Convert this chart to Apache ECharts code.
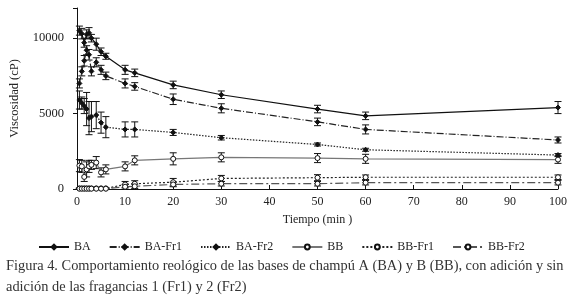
<!DOCTYPE html>
<html><head><meta charset="utf-8">
<script src="https://cdn.jsdelivr.net/npm/echarts@6/dist/echarts.min.js"></script>
<style>html,body{margin:0;padding:0;background:#fff}#c{width:574px;height:296px}</style>
</head><body><div id="c"></div>
<script>
const times = [0.5, 1, 1.5, 2, 2.5, 3, 4, 5, 6, 10, 12, 20, 30, 50, 60, 100];
const BA      = [10500, 10300, 9700, 10250, 10350, 10000, 9600, 9100, 8800, 7900, 7700, 6900, 6250, 5300, 4850, 5400];
const BA_err  = [300, 350, 300, 300, 350, 250, 400, 250, 200, 300, 250, 250, 250, 250, 250, 400];
const BAFr1   = [7000, 7800, 8500, 9200, 8900, 7800, 8400, 7900, 7500, 7000, 6800, 5950, 5350, 4450, 3950, 3250];
const BAFr1_err = [300, 300, 350, 300, 350, 300, 300, 300, 250, 300, 250, 350, 300, 250, 300, 200];
const BAFr2   = [5900, 5700, 5500, 5300, 4700, 4800, 4900, 4400, 4100, 3950, 3950, 3750, 3400, 2950, 2600, 2250];
const BAFr2_err = [600, 400, 500, 1100, 1100, 1000, 900, 700, 700, 500, 500, 200, 150, 100, 100, 100];
const BB      = [1550, 1500, 800, 1300, 1500, 1600, 1750, 1100, 1300, 1500, 1900, 2000, 2100, 2050, 2000, 1950];
const BB_err  = [400, 400, 300, 500, 400, 300, 400, 300, 300, 300, 300, 400, 300, 300, 300, 250];
const BBFr1   = [40, 40, 40, 40, 40, 40, 40, 40, 40, 300, 350, 450, 700, 750, 780, 780];
const BBFr1_err = [30, 30, 30, 30, 30, 30, 30, 30, 30, 200, 200, 250, 200, 200, 150, 150];
const BBFr2   = [20, 20, 20, 20, 20, 20, 20, 20, 20, 150, 180, 300, 350, 350, 420, 420];
const BBFr2_err = [20, 20, 20, 20, 20, 20, 20, 20, 20, 150, 150, 150, 150, 150, 150, 150];
const names = ['BA', 'BA-Fr1', 'BA-Fr2', 'BB', 'BB-Fr1', 'BB-Fr2'];
const xTicks = [0, 10, 20, 30, 40, 50, 60, 70, 80, 90, 100];
const yTicks = [0, 5000, 10000];
const caption1 = 'Figura 4. Comportamiento reológico de las bases de champú A (BA) y B (BB), con adición y sin';
const caption2 = 'adición de las fragancias 1 (Fr1) y 2 (Fr2)';

const vals = [BA, BAFr1, BAFr2, BB, BBFr1, BBFr2];
const errs = [BA_err, BAFr1_err, BAFr2_err, BB_err, BBFr1_err, BBFr2_err];
const styles = [
  {type: 'solid', color: '#111', sym: 'diamond', fill: '#111'},
  {type: [7, 2, 1, 2], color: '#222', sym: 'diamond', fill: '#111'},
  {type: [1.5, 1.5], color: '#222', sym: 'diamond', fill: '#111'},
  {type: 'solid', color: '#777', sym: 'circle', fill: '#fff'},
  {type: [2, 2], color: '#222', sym: 'circle', fill: '#fff'},
  {type: [8, 3, 2, 3], color: '#555', sym: 'circle', fill: '#fff'}
];
const font = '"Liberation Serif", "DejaVu Serif", serif';
const series = [];
names.forEach((n, i) => {
  series.push({
    name: n, type: 'line', z: 3,
    data: times.map((t, k) => [t, vals[i][k]]),
    symbol: styles[i].sym, symbolSize: 5,
    itemStyle: {color: styles[i].fill, borderColor: '#111', borderWidth: 1},
    lineStyle: {type: styles[i].type, color: styles[i].color, width: 1.2}
  });
  series.push({
    name: n, type: 'custom', z: 2,
    data: times.map((t, k) => [t, vals[i][k] - errs[i][k], vals[i][k] + errs[i][k]]),
    renderItem: function (params, api) {
      const lo = api.coord([api.value(0), api.value(1)]);
      const hi = api.coord([api.value(0), api.value(2)]);
      const w = 3.5;
      const st = {stroke: '#111', lineWidth: 1};
      return {type: 'group', children: [
        {type: 'line', shape: {x1: lo[0], y1: lo[1], x2: hi[0], y2: hi[1]}, style: st},
        {type: 'line', shape: {x1: lo[0] - w, y1: lo[1], x2: lo[0] + w, y2: lo[1]}, style: st},
        {type: 'line', shape: {x1: hi[0] - w, y1: hi[1], x2: hi[0] + w, y2: hi[1]}, style: st}
      ]};
    }
  });
});

const chart = echarts.init(document.getElementById('c'));
chart.setOption({
  animation: false,
  backgroundColor: '#fff',
  grid: {left: 77, right: 16, top: 8, bottom: 107},
  legend: {
    data: names, left: 33, top: 236, itemWidth: 30, itemHeight: 6, itemGap: 18,
    textStyle: {fontFamily: font, fontSize: 12, color: '#222'}
  },
  xAxis: {
    type: 'value', min: 0, max: 100, interval: 10,
    name: 'Tiempo (min )', nameLocation: 'middle', nameGap: 25,
    nameTextStyle: {fontFamily: font, fontSize: 12, color: '#222'},
    axisLine: {lineStyle: {color: '#111', width: 1}},
    axisTick: {inside: true, length: 4, lineStyle: {color: '#111'}},
    axisLabel: {fontFamily: font, fontSize: 12, color: '#222', margin: 7},
    splitLine: {show: false}
  },
  yAxis: {
    type: 'value', min: 0, max: 12000, interval: 5000,
    name: 'Viscosidad (cP)', nameLocation: 'middle', nameGap: 56,
    nameTextStyle: {fontFamily: font, fontSize: 12.5, color: '#222'},
    axisLine: {show: true, lineStyle: {color: '#111', width: 1}},
    axisTick: {show: true, length: 4, lineStyle: {color: '#111'}},
    axisLabel: {fontFamily: font, fontSize: 12.5, color: '#222', margin: 13,
      formatter: v => (yTicks.indexOf(v) >= 0 ? String(v) : '')},
    splitLine: {show: false}
  },
  graphic: [
    {type: 'text', left: 6, top: 259, style: {text: caption1, font: '14.4px ' + font, fill: '#333'}},
    {type: 'text', left: 6, top: 280, style: {text: caption2, font: '14.4px ' + font, fill: '#333'}}
  ],
  series: series
});
</script></body></html>
